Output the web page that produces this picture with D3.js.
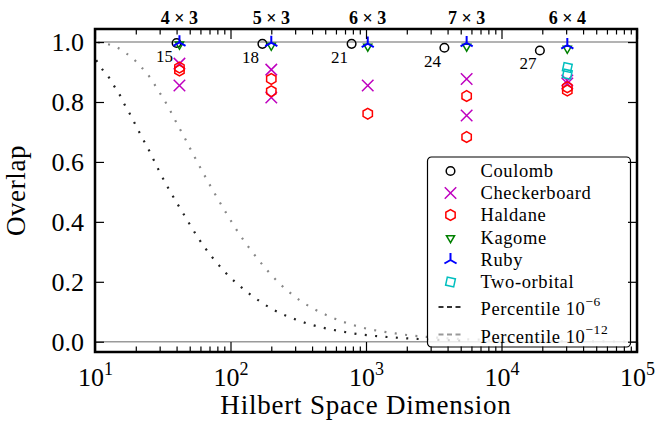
<!DOCTYPE html>
<html>
<head>
<meta charset="utf-8">
<script src="https://cdn.jsdelivr.net/npm/d3@7"></script>
<style>
  body { margin: 0; background: #fff; }
  svg text { font-family: "Liberation Serif", "DejaVu Serif", serif; fill: #000; }
</style>
</head>
<body>
<div id="chart"></div>
<script>
// cluster sizes on the top axis and their Hilbert space dimensions
var clusterLabels = ["4 × 3", "5 × 3", "6 × 3", "7 × 3", "6 × 4"];
var clusterDims = [42, 200, 1030, 5530, 30600];

// Coulomb reference points (labelled by orbital count)
var coulombDims = [40, 172, 783, 3790, 19200];
var coulombVals = [0.997, 0.994, 0.994, 0.981, 0.972];
var coulombLabels = ["15", "18", "21", "24", "27"];

var checkerDims = [42, 42, 200, 200, 1030, 5530, 5530, 30600, 30600];
var checkerVals = [0.928, 0.855, 0.908, 0.815, 0.855, 0.877, 0.755, 0.872, 0.862];

var haldaneDims = [42, 42, 200, 200, 1030, 5530, 5530, 30600, 30600];
var haldaneVals = [0.915, 0.905, 0.877, 0.836, 0.761, 0.82, 0.683, 0.849, 0.838];

var kagomeDims = [42, 200, 1030, 5530, 30600];
var kagomeVals = [0.992, 0.988, 0.985, 0.985, 0.978];

var rubyDims = [42, 200, 1030, 5530, 30600];
var rubyVals = [0.999, 0.998, 0.995, 0.997, 0.99];

var twoOrbDims = [30600, 30600];
var twoOrbVals = [0.915, 0.893];

// random-state percentile curves
var p6Dims = [10.2, 11.4, 12.7, 13.9, 15.3, 16.6, 18.1, 21.4, 25.4, 29.7, 35.2, 45.9, 59, 90, 138, 211, 321, 750, 1750, 4100, 5700];
var p6Vals = [0.94, 0.907, 0.881, 0.852, 0.822, 0.79, 0.76, 0.696, 0.633, 0.57, 0.508, 0.42, 0.34, 0.235, 0.16, 0.105, 0.07, 0.03, 0.013, 0.005, 0.003];

var p12Dims = [10.5, 12.2, 14.4, 16.8, 19.4, 22.0, 24.6, 27.3, 30.0, 33.1, 36.2, 39.4, 42.9, 46.7, 50.6, 55.0, 70, 90, 116, 163, 229, 321, 534, 890, 1750, 4100, 9500, 22000, 52000, 90000];
var p12Vals = [0.999, 0.994, 0.983, 0.964, 0.942, 0.916, 0.891, 0.861, 0.831, 0.8, 0.768, 0.736, 0.705, 0.674, 0.643, 0.612, 0.525, 0.44, 0.36, 0.27, 0.195, 0.14, 0.085, 0.05, 0.026, 0.011, 0.005, 0.002, 0.001, 0.0005];

var yTicks = [0, 0.2, 0.4, 0.6, 0.8, 1.0];
var xMajor = [10, 100, 1000, 10000, 100000];

function zip(a, b) {
  return a.map(function(d, i) { return { x: d, y: b[i] }; });
}

// custom marker shapes for d3.symbol
var hexagon = {
  draw: function(ctx, size) {
    var r = Math.sqrt(size);
    for (var i = 0; i < 6; i++) {
      var a = Math.PI / 3 * i - Math.PI / 2;
      if (i === 0) ctx.moveTo(r * Math.cos(a), r * Math.sin(a));
      else ctx.lineTo(r * Math.cos(a), r * Math.sin(a));
    }
    ctx.closePath();
  }
};
var triUp = {
  draw: function(ctx, size) {
    var r = Math.sqrt(size);
    [-90, 30, 150].forEach(function(deg) {
      var a = deg * Math.PI / 180;
      ctx.moveTo(0, 0);
      ctx.lineTo(r * Math.cos(a), r * Math.sin(a));
    });
  }
};
var cross = {
  draw: function(ctx, size) {
    var r = Math.sqrt(size);
    ctx.moveTo(-r, -r); ctx.lineTo(r, r);
    ctx.moveTo(-r, r); ctx.lineTo(r, -r);
  }
};
var triDown = {
  draw: function(ctx, size) {
    var r = Math.sqrt(size);
    ctx.moveTo(0, r);
    ctx.lineTo(-r * 0.866, -r * 0.5);
    ctx.lineTo(r * 0.866, -r * 0.5);
    ctx.closePath();
  }
};
var circ = {
  draw: function(ctx, size) {
    var r = Math.sqrt(size);
    ctx.moveTo(r, 0);
    ctx.arc(0, 0, r, 0, 2 * Math.PI);
  }
};
var square = {
  draw: function(ctx, size) {
    var r = Math.sqrt(size);
    ctx.rect(-r, -r, 2 * r, 2 * r);
  }
};

var series = [
  { name: "Coulomb", dims: coulombDims, vals: coulombVals, type: circ, size: 18.5, color: "#000", width: 1.5 },
  { name: "Checkerboard", dims: checkerDims, vals: checkerVals, type: cross, size: 33, color: "#bf00bf", width: 1.5 },
  { name: "Haldane", dims: haldaneDims, vals: haldaneVals, type: hexagon, size: 29, color: "#ff0000", width: 1.5 },
  { name: "Kagome", dims: kagomeDims, vals: kagomeVals, type: triDown, size: 22, color: "#008000", width: 1.5 },
  { name: "Ruby", dims: rubyDims, vals: rubyVals, type: triUp, size: 49, color: "#0000ff", width: 2 },
  { name: "Two-orbital", dims: twoOrbDims, vals: twoOrbVals, type: square, size: 17, color: "#00bfbf", width: 1.5, rot: 12 }
];

var svgWidth = 668, svgHeight = 422;
var margin = { top: 29, right: 31, bottom: 70, left: 95 };
var width = svgWidth - margin.left - margin.right;
var height = svgHeight - margin.top - margin.bottom;

var svg = d3.select("#chart").append("svg")
  .attr("width", svgWidth)
  .attr("height", svgHeight);
var g = svg.append("g")
  .attr("transform", "translate(" + margin.left + "," + margin.top + ")");

var x = d3.scaleLog().domain([10, 1e5]).range([0, width]);
var y = d3.scaleLinear().domain([-0.0343, 1.0436]).range([height, 0]);

var xMinor = [];
for (var e = 1; e < 5; e++) {
  for (var k = 2; k < 10; k++) xMinor.push(k * Math.pow(10, e));
}

// reference lines at 0 and 1
g.selectAll(".ref").data([0, 1]).enter().append("line")
  .attr("x1", 0).attr("x2", width)
  .attr("y1", function(d) { return y(d); })
  .attr("y2", function(d) { return y(d); })
  .attr("stroke", "#9a9a9a")
  .attr("stroke-width", 1.5);

var line = d3.line()
  .x(function(d) { return x(d.x); })
  .y(function(d) { return y(d.y); })
  .curve(d3.curveMonotoneX);

g.append("path")
  .datum(zip(p6Dims, p6Vals))
  .attr("fill", "none")
  .attr("stroke", "#222")
  .attr("stroke-width", 2.2)
  .attr("stroke-dasharray", "2,8.4")
  .attr("d", line);

g.append("path")
  .datum(zip(p12Dims, p12Vals))
  .attr("fill", "none")
  .attr("stroke", "#888")
  .attr("stroke-width", 2.2)
  .attr("stroke-dasharray", "2,8.4")
  .attr("d", line);

// markers
series.forEach(function(s) {
  g.append("g").selectAll("path")
    .data(zip(s.dims, s.vals))
    .enter().append("path")
    .attr("transform", function(d) {
      return "translate(" + x(d.x) + "," + y(d.y) + ")" + (s.rot ? " rotate(" + s.rot + ")" : "");
    })
    .attr("d", d3.symbol().type(s.type).size(s.size))
    .attr("fill", "none")
    .attr("stroke", s.color)
    .attr("stroke-width", s.width);
});

// Coulomb size labels
g.selectAll(".clab")
  .data(coulombLabels)
  .enter().append("text")
  .attr("x", function(d, i) { return x(coulombDims[i]) - 12; })
  .attr("y", function(d, i) { return y(coulombVals[i]) + 19; })
  .attr("text-anchor", "middle")
  .attr("font-size", 17)
  .text(function(d) { return d; });

// cluster labels on top
g.selectAll(".toplab")
  .data(clusterLabels)
  .enter().append("text")
  .attr("x", function(d, i) { return x(clusterDims[i]); })
  .attr("y", -5)
  .attr("text-anchor", "middle")
  .attr("font-size", 18)
  .attr("font-weight", "bold")
  .text(function(d) { return d; });

// legend
var lg = g.append("g").attr("transform", "translate(" + (427.5 - margin.left) + "," + (157 - margin.top) + ")");
lg.append("rect")
  .attr("width", 203).attr("height", 190)
  .attr("rx", 4)
  .attr("fill", "#fff").attr("fill-opacity", 0.8)
  .attr("stroke", "#000").attr("stroke-width", 1.2);
var rowY = [14, 36, 58, 81, 103, 125];
series.forEach(function(s, i) {
  lg.append("path")
    .attr("transform", "translate(23," + rowY[i] + ")" + (s.rot ? " rotate(" + s.rot + ")" : ""))
    .attr("d", d3.symbol().type(s.type).size(s.size))
    .attr("fill", "none")
    .attr("stroke", s.color)
    .attr("stroke-width", s.width);
  lg.append("text")
    .attr("x", 53).attr("y", rowY[i] + 6)
    .attr("font-size", 18.5)
    .attr("letter-spacing", 0.6)
    .text(s.name);
});
var lineRows = [
  { y: 150, color: "#333", exp: "−6" },
  { y: 177.5, color: "#999", exp: "−12" }
];
lineRows.forEach(function(r) {
  lg.append("line")
    .attr("x1", 11).attr("x2", 36)
    .attr("y1", r.y).attr("y2", r.y)
    .attr("stroke", r.color).attr("stroke-width", 2.2)
    .attr("stroke-dasharray", "5,3.5");
  var t = lg.append("text")
    .attr("x", 53).attr("y", r.y + 8)
    .attr("font-size", 18.5)
    .attr("letter-spacing", 0.6);
  t.append("tspan").text("Percentile 10");
  t.append("tspan").attr("dy", -9).attr("font-size", 13.5).text(r.exp);
});

// frame
g.append("rect")
  .attr("width", width).attr("height", height)
  .attr("fill", "none")
  .attr("stroke", "#000")
  .attr("stroke-width", 2.5);

// axes, ticks pointing inward
function styleAxis(sel) {
  sel.select(".domain").remove();
  sel.selectAll(".tick line").attr("stroke", "#000").attr("stroke-width", 1.2);
}

var bottomMajor = g.append("g")
  .attr("transform", "translate(0," + height + ")")
  .call(d3.axisBottom(x).tickValues(xMajor).tickSize(-10).tickPadding(14).tickFormat(""))
  .call(styleAxis);
bottomMajor.selectAll(".tick text")
  .attr("font-size", 26)
  .attr("dy", "0.75em")
  .each(function(d) {
    var t = d3.select(this);
    t.append("tspan").text("10");
    t.append("tspan").attr("dy", -11).attr("font-size", 18).text(Math.round(Math.log10(d)));
  });

g.append("g")
  .attr("transform", "translate(0," + height + ")")
  .call(d3.axisBottom(x).tickValues(xMinor).tickSize(-5.5).tickFormat(""))
  .call(styleAxis);
g.append("g")
  .call(d3.axisTop(x).tickValues(xMajor).tickSize(-10).tickFormat(""))
  .call(styleAxis);
g.append("g")
  .call(d3.axisTop(x).tickValues(xMinor).tickSize(-5.5).tickFormat(""))
  .call(styleAxis);

g.append("g")
  .call(d3.axisLeft(y).tickValues(yTicks).tickSize(-9).tickPadding(11).tickFormat(d3.format(".1f")))
  .call(styleAxis)
  .selectAll(".tick text")
  .attr("font-size", 26);
g.append("g")
  .attr("transform", "translate(" + width + ",0)")
  .call(d3.axisRight(y).tickValues(yTicks).tickSize(-9).tickFormat(""))
  .call(styleAxis);

// axis titles
g.append("text")
  .attr("x", width / 2)
  .attr("y", height + 62)
  .attr("text-anchor", "middle")
  .attr("font-size", 27)
  .attr("letter-spacing", 0.8)
  .text("Hilbert Space Dimension");

g.append("text")
  .attr("transform", "translate(" + (-70) + "," + (height / 2) + ") rotate(-90)")
  .attr("text-anchor", "middle")
  .attr("font-size", 27)
  .attr("letter-spacing", 0.6)
  .text("Overlap");
</script>
</body>
</html>
